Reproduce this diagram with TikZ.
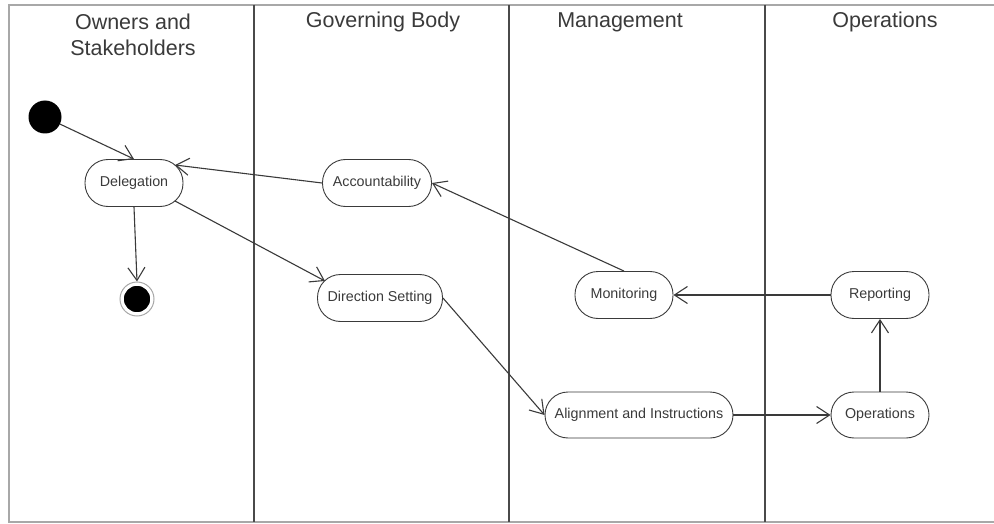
\documentclass[tikz,border=0pt]{standalone}
\usepackage{fontspec}
\setmainfont{Liberation Sans}
\usetikzlibrary{arrows.meta}
\definecolor{lanegray}{HTML}{4A4A4A}
\definecolor{framegray}{HTML}{A8A8A8}
\definecolor{inkgray}{HTML}{3A3A3A}
\begin{document}
\begin{tikzpicture}[x=1pt,y=-1pt,
  lanehead/.style={font=\fontsize{21.5}{26}\selectfont, text=inkgray, align=center},
  activity/.style={rectangle, rounded corners=23pt, draw=inkgray, line width=0.9pt,
    minimum height=47pt, inner sep=0pt, font=\fontsize{14.3}{16}\selectfont, text=inkgray},
  initial/.style={circle, fill=black, minimum size=33pt, inner sep=0pt},
  final/.style={circle, fill=black, draw=white, line width=1.5pt, minimum size=28pt, inner sep=0pt},
  flow/.style={draw=inkgray, line width=1.1pt, -{Straight Barb[length=13pt,width=17pt,line width=1.1pt]}}]
  \useasboundingbox (0,0) rectangle (994,524);
  % frame of the swimlanes
  \draw[framegray, line width=2pt] (994,5) -- (9,5) -- (9,522) -- (994,522);
  \foreach \lx in {254,509,765}
    \draw[lanegray, line width=1.8pt] (\lx,5) -- (\lx,522);
  % lane titles
  \node[lanehead] (h1) at (133,35) {Owners and\\Stakeholders};
  \node[lanehead] (h2) at (383,22) {Governing Body};
  \node[lanehead] (h3) at (620,22) {Management};
  \node[lanehead] (h4) at (885,22) {Operations};
  % states
  \node[initial] (start) at (45,117) {};
  \node[circle, draw=framegray, line width=1pt, minimum size=34pt, inner sep=0pt] (endring) at (137,299) {};
  \node[final] (end) at (137,299) {};
  \node[activity, minimum width=98pt] (del) at (134,183) {Delegation};
  \node[activity, minimum width=109pt] (acc) at (377,183) {Accountability};
  \node[activity, minimum width=125pt] (dir) at (380,298) {Direction Setting};
  \node[activity, minimum width=98pt] (mon) at (624,295) {Monitoring};
  \node[activity, minimum width=98pt] (rep) at (880,295) {Reporting};
  \node[activity, minimum width=188pt, minimum height=46pt] (ali) at (639,415) {Alignment and Instructions};
  \node[activity, minimum width=98pt, minimum height=46pt] (ops) at (880,415) {Operations};
  % points on the rounded ends where slanted flows meet them
  \coordinate (delNE) at ([shift={(41,-18)}]del.center);
  \coordinate (delSE) at ([shift={(41,18)}]del.center);
  \coordinate (dirNW) at ([shift={(-55,-17)}]dir.center);
  % control flow
  \draw[flow] (start) -- (del.north);
  \draw[flow] (acc.west) -- (delNE);
  \draw[flow] (del.south) -- (endring.north);
  \draw[flow] (delSE) -- (dirNW);
  \draw[flow] (dir.east) -- (ali.west);
  \draw[flow] (mon.north) -- (acc.east);
  \draw[flow] (rep.west) -- (mon.east);
  \draw[flow] (ali.east) -- (ops.west);
  \draw[flow] (ops.north) -- (rep.south);
\end{tikzpicture}
\end{document}
